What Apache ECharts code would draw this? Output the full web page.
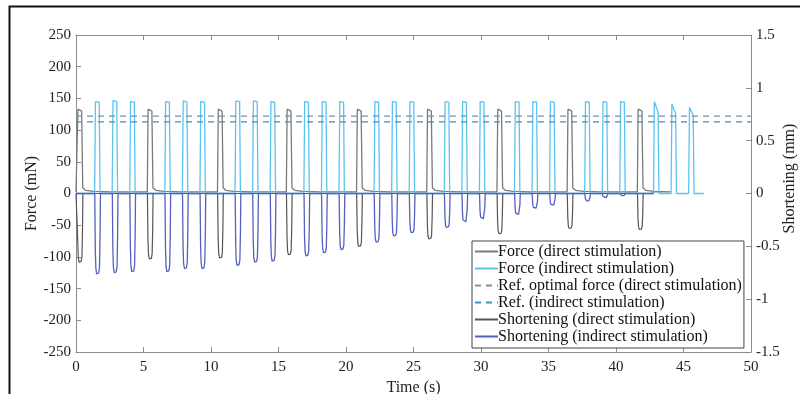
<!DOCTYPE html>
<html>
<head>
<meta charset="utf-8">
<script src="https://cdn.jsdelivr.net/npm/echarts@6/dist/echarts.min.js"></script>
<style>
html,body{margin:0;padding:0;background:#fff;overflow:hidden;}
#chart{width:800px;height:394px;}
</style>
</head>
<body>
<div id="chart"></div>
<script>
// ---- data ----
const xTicks = [0, 5, 10, 15, 20, 25, 30, 35, 40, 45, 50];
const forceTicks = [-250, -200, -150, -100, -50, 0, 50, 100, 150, 200, 250];
const shortTicks = [-1.5, -1, -0.5, 0, 0.5, 1, 1.5];

// direct stimulation pulses (s)
const directTimes = [0.1, 5.3, 10.5, 15.6, 20.8, 26.0, 31.2, 36.4, 41.6];
const directForcePeak = [133, 133, 133, 133, 133, 133, 133, 133, 133];
const directShortening = [-0.65, -0.62, -0.61, -0.58, -0.50, -0.43, -0.38, -0.33, -0.34]; // mm

// indirect stimulation pulses (s)
const indirectTimes = [1.4, 2.7, 4.0, 6.6, 7.9, 9.2, 11.8, 13.1, 14.4, 16.9, 18.2, 19.5,
  22.1, 23.4, 24.7, 27.3, 28.6, 29.9, 32.5, 33.8, 35.1, 37.7, 39.0, 40.3, 42.8, 44.1, 45.4];
const indirectForcePeak = [145, 147, 145, 145, 146, 145, 146, 146, 145, 145, 145, 145,
  145, 145, 145, 145, 145, 145, 145, 145, 145, 145, 145, 145, 145, 141, 136];
const indirectForceEnd = [144, 145, 144, 144, 144, 144, 145, 145, 144, 144, 144, 144,
  144, 144, 144, 144, 144, 144, 144, 144, 144, 144, 144, 144, 128, 126, 123];
const indirectShortening = [-0.76, -0.75, -0.74, -0.74, -0.71, -0.71, -0.68, -0.65, -0.64,
  -0.59, -0.56, -0.53, -0.46, -0.40, -0.37, -0.32, -0.27, -0.24, -0.20, -0.14, -0.11,
  -0.07, -0.04, -0.02, 0, 0, 0]; // mm

const refDirect = 122;   // mN
const refIndirect = 113; // mN
const tEnd = 50;
const indirectForceStop = 46.5;
const shorteningStop = 42.8;
const directStop = 42.6;
const directBaseline = 2.5;

// ---- build line data from the arrays ----
function forcePulses(times, peaks, ends, base, tail) {
  const d = [[0, tail ? base : 0]];
  times.forEach((t, i) => {
    d.push([t - 0.02, tail ? base : 0]);
    d.push([t + 0.04, peaks[i]]);
    d.push([t + 0.32, ends[i]]);
    if (tail) {
      d.push([t + 0.40, 9]);
      d.push([t + 0.60, 5]);
      d.push([t + 1.2, 3.2]);
      d.push([t + 2.5, base]);
    } else {
      d.push([t + 0.38, 0]);
    }
  });
  return d;
}
function shortPulses(times, troughs, stop) {
  const d = [[0, 0]];
  times.forEach((t, i) => {
    const v = troughs[i];
    if (v === 0) return;
    d.push([t - 0.01, 0]);
    d.push([t + 0.03, v * 0.7]);
    d.push([t + 0.07, v * 0.93]);
    d.push([t + 0.13, v]);
    d.push([t + 0.28, v * 0.99]);
    d.push([t + 0.34, v * 0.92]);
    d.push([t + 0.38, v * 0.55]);
    d.push([t + 0.41, 0]);
  });
  d.push([stop, 0]);
  return d;
}

const directEnd = directTimes.map(() => 130);
const fDirect = forcePulses(directTimes, directForcePeak, directEnd, directBaseline, true);
fDirect.push([directStop, directBaseline]);
const fIndirect = forcePulses(indirectTimes, indirectForcePeak, indirectForceEnd, 0, false);
fIndirect.push([indirectForceStop, 0]);
const sDirect = shortPulses(directTimes, directShortening, directStop);
const sIndirect = shortPulses(indirectTimes, indirectShortening, shorteningStop);

const FONT = 'Liberation Serif';
const AX = '#8c8c8c';
const TXT = '#222';

const chart = echarts.init(document.getElementById('chart'), null, {renderer: 'canvas'});
chart.setOption({
  animation: false,
  backgroundColor: '#fff',
  grid: {left: 76, right: 49, top: 35, bottom: 42, containLabel: false, outerBoundsMode: 'none'},
  graphic: [{
    type: 'rect', left: 7, top: 4, z: 100, silent: true,
    shape: {x: 0, y: 0, width: 810, height: 410},
    style: {fill: 'none', stroke: '#111', lineWidth: 2}
  }],
  legend: {
    left: 472, top: 241, orient: 'vertical',
    backgroundColor: '#fff', borderColor: '#444', borderWidth: 1,
    padding: [2, 2, 3, 2], itemGap: 0, itemWidth: 23, itemHeight: 17,
    itemStyle: {opacity: 0},
    textStyle: {fontFamily: FONT, fontSize: 16, lineHeight: 17, color: '#111', padding: [0, 0, 0, -5]},
    data: ['Force (direct stimulation)', 'Force (indirect stimulation)',
      'Ref. optimal force (direct stimulation)', 'Ref. (indirect stimulation)',
      'Shortening (direct stimulation)', 'Shortening (indirect stimulation)']
  },
  xAxis: [{
    type: 'value', min: xTicks[0], max: xTicks[xTicks.length - 1], interval: 5,
    name: 'Time (s)', nameLocation: 'middle', nameGap: 24,
    nameTextStyle: {fontFamily: FONT, fontSize: 16, color: TXT},
    axisLine: {onZero: false, lineStyle: {color: AX, width: 1}},
    axisTick: {inside: true, length: 5, lineStyle: {color: AX}},
    axisLabel: {fontFamily: FONT, fontSize: 15, color: TXT, margin: 8},
    splitLine: {show: false}
  }, {
    type: 'value', position: 'top', min: 0, max: 50, interval: 5,
    axisLine: {onZero: false, lineStyle: {color: AX, width: 1}},
    axisTick: {inside: true, length: 5, lineStyle: {color: AX}},
    axisLabel: {show: false}, splitLine: {show: false}
  }],
  yAxis: [{
    type: 'value', position: 'left', min: forceTicks[0], max: forceTicks[forceTicks.length - 1], interval: 50,
    name: 'Force (mN)', nameLocation: 'middle', nameGap: 36, nameMoveOverlap: false,
    nameTextStyle: {fontFamily: FONT, fontSize: 16, color: TXT},
    axisLine: {show: true, onZero: false, lineStyle: {color: AX, width: 1}},
    axisTick: {show: true, inside: true, length: 5, lineStyle: {color: AX}},
    axisLabel: {fontFamily: FONT, fontSize: 15, color: TXT, margin: 5},
    splitLine: {show: false}
  }, {
    type: 'value', position: 'right', min: shortTicks[0], max: shortTicks[shortTicks.length - 1], interval: 0.5,
    name: 'Shortening (mm)', nameLocation: 'middle', nameGap: 31, nameMoveOverlap: false,
    nameTextStyle: {fontFamily: FONT, fontSize: 16, color: TXT, padding: [0, 0, 0, 30]},
    axisLine: {show: true, onZero: false, lineStyle: {color: AX, width: 1}},
    axisTick: {show: true, inside: true, length: 5, lineStyle: {color: AX}},
    axisLabel: {fontFamily: FONT, fontSize: 15, color: TXT, margin: 5},
    splitLine: {show: false}
  }],
  series: [
    {name: 'Force (direct stimulation)', type: 'line', yAxisIndex: 0, symbol: 'none',
      color: '#7a7a7a', lineStyle: {width: 1.3, color: '#7a7a7a'}, data: fDirect, z: 2},
    {name: 'Force (indirect stimulation)', type: 'line', yAxisIndex: 0, symbol: 'none',
      color: '#5cc3ef', lineStyle: {width: 1.3, color: '#5cc3ef'}, data: fIndirect, z: 3},
    {name: 'Ref. optimal force (direct stimulation)', type: 'line', yAxisIndex: 0, symbol: 'none',
      color: '#7f8f9c', lineStyle: {width: 1.3, type: [6, 5], color: '#7f8f9c'}, data: [[0, refDirect], [tEnd, refDirect]], z: 4},
    {name: 'Ref. (indirect stimulation)', type: 'line', yAxisIndex: 0, symbol: 'none',
      color: '#3d8fc4', lineStyle: {width: 1.3, type: [6, 5], color: '#3d8fc4'}, data: [[0, refIndirect], [tEnd, refIndirect]], z: 4},
    {name: 'Shortening (direct stimulation)', type: 'line', yAxisIndex: 1, symbol: 'none',
      color: '#333', lineStyle: {width: 1.2, color: '#555'}, data: sDirect, z: 5},
    {name: 'Shortening (indirect stimulation)', type: 'line', yAxisIndex: 1, symbol: 'none',
      color: '#5561bf', lineStyle: {width: 1.3, color: '#5561bf'}, data: sIndirect, z: 6}
  ]
});
</script>
</body>
</html>
